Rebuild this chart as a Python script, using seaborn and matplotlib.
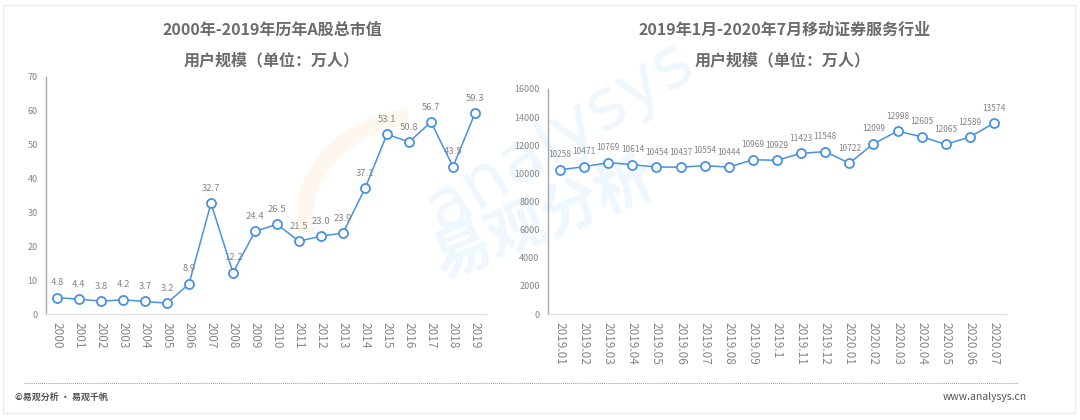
import matplotlib
matplotlib.use("Agg")
import matplotlib.pyplot as plt
import seaborn as sns
import pandas as pd
from matplotlib.patches import Rectangle, Arc
from matplotlib.lines import Line2D

# ---------------- data ----------------
years = ["2000", "2001", "2002", "2003", "2004", "2005", "2006", "2007", "2008", "2009",
         "2010", "2011", "2012", "2013", "2014", "2015", "2016", "2017", "2018", "2019"]
market_cap = [4.8, 4.4, 3.8, 4.2, 3.7, 3.2, 8.9, 32.7, 12.2, 24.4,
              26.5, 21.5, 23.0, 23.9, 37.1, 53.1, 50.8, 56.7, 43.5, 59.3]
left_labels = ["4.8", "4.4", "3.8", "4.2", "3.7", "3.2", "8.9", "32.7", "12.2", "24.4",
               "26.5", "21.5", "23.0", "23.9", "37.1", "53.1", "50.8", "56.7", "43.5", "59.3"]

months = ["2019.01", "2019.02", "2019.03", "2019.04", "2019.05", "2019.06", "2019.07",
          "2019.08", "2019.09", "2019.1", "2019.11", "2019.12", "2020.01", "2020.02",
          "2020.03", "2020.04", "2020.05", "2020.06", "2020.07"]
users = [10258, 10471, 10769, 10614, 10454, 10437, 10554, 10444, 10969, 10929,
         11423, 11548, 10722, 12099, 12998, 12605, 12065, 12589, 13574]

left_yticks = [0, 10, 20, 30, 40, 50, 60, 70]
right_yticks = [0, 2000, 4000, 6000, 8000, 10000, 12000, 14000, 16000]

title_left = ["2000年-2019年历年A股总市值", "用户规模（单位：万人）"]
title_right = ["2019年1月-2020年7月移动证券服务行业", "用户规模（单位：万人）"]

# ---------------- style ----------------
sns.set_theme(style="white")
plt.rcParams["font.family"] = ["Noto Sans CJK SC", "DejaVu Sans"]

W, H = 1080, 420
fig = plt.figure(figsize=(W / 100, H / 100), dpi=100)
fig.patch.set_facecolor("white")

LINE = "#4a90e2"
GRAY = "#858585"
TITLE = "#6b6b6b"

def fx(px):
    return px / W

def fy(py):
    return 1 - py / H

# faint watermark (behind axes)
fig.text(fx(560), fy(135), "analysys", fontsize=50, color="#eef7fd", rotation=32,
         ha="center", va="center", zorder=0, family=["DejaVu Sans"])
fig.text(fx(545), fy(220), "易观分析", fontsize=42, color="#eef7fd", rotation=22,
         ha="center", va="center", fontweight="bold", zorder=0)
arc = Arc((fx(430), fy(215)), fx(250), 200 / H, angle=0, theta1=95, theta2=200,
          transform=fig.transFigure, color="#fef7ef", lw=12, zorder=0)
fig.add_artist(arc)

# border
fig.add_artist(Rectangle((fx(3), fy(413)), fx(1072), (413 - 5) / H, transform=fig.transFigure,
                         fill=False, edgecolor="#ececec", lw=1, zorder=1))

def draw(ax, cats, vals, labels, yticks, ylim, lab_fs):
    df = pd.DataFrame({"x": range(len(cats)), "y": vals})
    sns.lineplot(data=df, x="x", y="y", ax=ax, color=LINE, lw=1.1, marker="o",
                 markersize=6.5, markerfacecolor="white", markeredgecolor=LINE,
                 markeredgewidth=1.3, zorder=3)
    for i, (v, t) in enumerate(zip(vals, labels)):
        ax.annotate(t, (i, v), xytext=(0, 7.5), textcoords="offset points",
                    ha="center", va="bottom", fontsize=lab_fs, color=GRAY)
    ax.set_xlim(-0.5, len(cats) - 0.5)
    ax.set_ylim(*ylim)
    ax.set_xticks(range(len(cats)))
    ax.set_xticklabels(cats, rotation=-90, fontsize=8.5, color=GRAY)
    ax.set_yticks(yticks)
    ax.set_yticklabels([str(t) for t in yticks], fontsize=6.5, color=GRAY)
    ax.tick_params(axis="both", length=0, pad=6)
    ax.tick_params(axis="x", pad=6)
    ax.set_xlabel("")
    ax.set_ylabel("")
    for s in ["top", "right"]:
        ax.spines[s].set_visible(False)
    ax.spines["left"].set_color("#a8a8a8")
    ax.spines["left"].set_linewidth(1.0)
    ax.spines["bottom"].set_color("#e0e0e0")
    ax.spines["bottom"].set_linewidth(1.0)
    ax.set_facecolor("none")
    ax.set_zorder(2)
    ax.grid(False)

# left axes: x 46..486, y 77..314
axL = fig.add_axes([fx(46), fy(314), fx(440), (314 - 77) / H])
draw(axL, years, market_cap, left_labels, left_yticks, (0, 70), 6.8)

# right axes: x 548..1006, y 89..314
axR = fig.add_axes([fx(548), fy(314), fx(458), (314 - 89) / H])
draw(axR, months, users, [str(u) for u in users], right_yticks, (0, 16000), 6.0)

# titles
for xx, lines in [(272, title_left), (785, title_right)]:
    fig.text(fx(xx), fy(30), lines[0], ha="center", va="center", fontsize=11.5,
             fontweight="bold", color=TITLE, zorder=3)
    fig.text(fx(xx - 2 if xx > 500 else xx), fy(60), lines[1], ha="center", va="center",
             fontsize=11.5, fontweight="bold", color=TITLE, zorder=3)

# footer dotted line
fig.add_artist(Line2D([fx(24), fx(1018)], [fy(383), fy(383)], transform=fig.transFigure,
                      color="#9a9a9a", lw=0.7, ls=(0, (1, 1))))
fig.text(fx(15), fy(397), "©易观分析 · 易观千帆", ha="left", va="center", fontsize=6.5,
         fontweight="bold", color="#555555")
fig.text(fx(1027), fy(397), "www.analysys.cn", ha="right", va="center", fontsize=7.5,
         color="#555555")

fig.savefig("out.png", dpi=100, facecolor="white")
